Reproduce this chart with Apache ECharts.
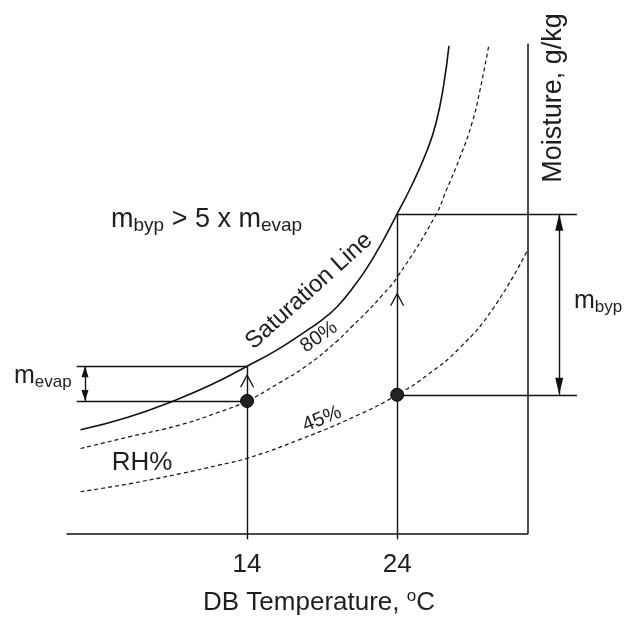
<!DOCTYPE html>
<html>
<head>
<meta charset="utf-8">
<title>Bypass vs evaporator moisture</title>
<script src="https://cdn.jsdelivr.net/npm/echarts@6.0.0/dist/echarts.min.js"></script>
<style>
  html, body { margin: 0; padding: 0; background: #fff; }
  #chart { width: 625px; height: 617px; }
</style>
</head>
<body>
<div id="chart"></div>
<script>
// dry-bulb temperature (°C) against moisture content (g/kg)
const tempTicks = [14, 24];

const satCurve = [
  [2.9, 6.35], [6.0, 7.1], [9.3, 8.2], [11.8, 9.2], [14, 10.25], [16, 11.25],
  [18, 12.45], [19, 13.1], [20, 13.9], [21, 15.0], [22, 16.3], [23, 17.85],
  [24, 19.6], [25, 21.4], [26, 23.5], [26.6, 25.2], [27.1, 27.5], [27.45, 29.9]
];
const rh80Curve = [
  [2.9, 5.2], [6.2, 5.93], [9.5, 6.64], [12.2, 7.46], [14, 8.12], [16, 9.15],
  [18, 10.3], [20, 11.8], [21, 12.7], [22, 13.6], [23, 14.6], [24, 15.7],
  [26.5, 19.4], [27.3, 21.1], [28.2, 23.1], [29.0, 25.2], [29.5, 27.1], [30.1, 29.9]
];
const rh45Curve = [
  [2.9, 2.55], [6.2, 3.05], [9.5, 3.65], [12.2, 4.2], [14, 4.6], [17.5, 5.75],
  [21.5, 7.3], [24, 8.5], [26, 9.7], [28.2, 11.4], [30.4, 13.8], [32.65, 17.3]
];

const statePoints = [[14, 8.12], [24, 8.5]];   // air states on 80% and 45% RH
const satMoisture = [10.25, 19.6];             // saturation moisture at 14 and 24 °C
const flowMarks = [[14, 9.7], [24, 14.7]];     // open arrows on the process lines

const FONT = '"Liberation Sans", Arial, Helvetica, sans-serif';
const INK = '#111';
const TEXT = '#1e1e1e';

// bracket positions (temperature units, the right ones sit past the axis)
const evapLineX = 2.65;
const evapArrowX = 3.2;
const bypLineX = 35.98;
const bypArrowX = 34.8;

const segments = [
  [[tempTicks[0], 0], [tempTicks[0], satMoisture[0]]],
  [[tempTicks[1], 0], [tempTicks[1], satMoisture[1]]],
  [[evapLineX, satMoisture[0]], [tempTicks[0], satMoisture[0]]],
  [[evapLineX, statePoints[0][1]], statePoints[0]],
  [[tempTicks[1], satMoisture[1]], [bypLineX, satMoisture[1]]],
  [statePoints[1], [bypLineX, statePoints[1][1]]],
  [[evapArrowX, satMoisture[0]], [evapArrowX, statePoints[0][1]]],
  [[bypArrowX, satMoisture[1]], [bypArrowX, statePoints[1][1]]]
];

function headRenderer(len, hw) {
  return function (params, api) {
    const p = api.coord([api.value(0), api.value(1)]);
    const d = api.value(2);
    return {
      type: 'polygon',
      shape: { points: [[p[0], p[1]], [p[0] - hw, p[1] + d * len], [p[0] + hw, p[1] + d * len]] },
      style: { fill: INK }
    };
  };
}

function curve(data, width, dashed) {
  return {
    type: 'line',
    data: data,
    smooth: 0.5,
    symbol: 'none',
    silent: true,
    clip: false,
    lineStyle: { color: INK, width: width, type: dashed ? [4, 3] : 'solid' },
    z: 3
  };
}

const chart = echarts.init(document.getElementById('chart'));

chart.setOption({
  animation: false,
  backgroundColor: '#fff',
  grid: { left: 67, right: 97.3, top: 44.3, bottom: 83.7, containLabel: false, outerBoundsMode: 'none' },
  xAxis: {
    type: 'value',
    min: 2,
    max: 32.7,
    axisLine: { show: true, onZero: false, lineStyle: { color: INK, width: 1.5 } },
    axisTick: { show: true, customValues: tempTicks, length: 6, inside: false, lineStyle: { color: INK, width: 1.4 } },
    axisLabel: { customValues: tempTicks, margin: 19, fontSize: 26, color: TEXT, fontFamily: FONT },
    splitLine: { show: false }
  },
  yAxis: {
    type: 'value',
    position: 'right',
    min: 0,
    max: 30,
    axisLine: { show: true, onZero: false, lineStyle: { color: INK, width: 1.5 } },
    axisTick: { show: false },
    axisLabel: { show: false },
    splitLine: { show: false }
  },
  series: [
    curve(satCurve, 1.6, false),
    curve(rh80Curve, 1.2, true),
    curve(rh45Curve, 1.2, true),
    {
      type: 'lines',
      coordinateSystem: 'cartesian2d',
      polyline: false,
      clip: false,
      silent: true,
      symbol: 'none',
      lineStyle: { color: INK, width: 1.4, opacity: 1, curveness: 0 },
      data: segments.map(c => ({ coords: c })),
      z: 2
    },
    {
      type: 'custom',
      coordinateSystem: 'cartesian2d',
      clip: false,
      silent: true,
      renderItem: headRenderer(17, 4),
      data: [[bypArrowX, satMoisture[1], 1], [bypArrowX, statePoints[1][1], -1]],
      z: 4
    },
    {
      type: 'custom',
      coordinateSystem: 'cartesian2d',
      clip: false,
      silent: true,
      renderItem: headRenderer(11, 3.5),
      data: [[evapArrowX, satMoisture[0], 1], [evapArrowX, statePoints[0][1], -1]],
      z: 4
    },
    {
      type: 'custom',
      coordinateSystem: 'cartesian2d',
      silent: true,
      renderItem: function (params, api) {
        const p = api.coord([api.value(0), api.value(1)]);
        return {
          type: 'polyline',
          shape: { points: [[p[0] - 6.5, p[1] + 12], [p[0], p[1]], [p[0] + 6.5, p[1] + 12]] },
          style: { stroke: INK, lineWidth: 1.3, fill: 'none' }
        };
      },
      data: flowMarks,
      z: 4
    },
    {
      type: 'scatter',
      data: statePoints,
      symbol: 'circle',
      symbolSize: 13,
      silent: true,
      itemStyle: { color: '#222', borderColor: '#000', borderWidth: 1, opacity: 1 },
      z: 5
    }
  ],
  graphic: [
    {
      type: 'text', x: 111, y: 220,
      style: {
        text: '{m|m}{s|byp}{m| > 5 x m}{s|evap}',
        verticalAlign: 'middle', align: 'left',
        rich: {
          m: { fontSize: 27, lineHeight: 30, fontFamily: FONT, fill: TEXT },
          s: { fontSize: 19, lineHeight: 18, verticalAlign: 'bottom', fontFamily: FONT, fill: TEXT }
        }
      }
    },
    {
      type: 'text', x: 14, y: 376,
      style: {
        text: '{m|m}{s|evap}',
        verticalAlign: 'middle', align: 'left',
        rich: {
          m: { fontSize: 25, lineHeight: 30, fontFamily: FONT, fill: TEXT },
          s: { fontSize: 17, lineHeight: 18, verticalAlign: 'bottom', fontFamily: FONT, fill: TEXT }
        }
      }
    },
    {
      type: 'text', x: 574, y: 301,
      style: {
        text: '{m|m}{s|byp}',
        verticalAlign: 'middle', align: 'left',
        rich: {
          m: { fontSize: 25, lineHeight: 30, fontFamily: FONT, fill: TEXT },
          s: { fontSize: 17, lineHeight: 18, verticalAlign: 'bottom', fontFamily: FONT, fill: TEXT }
        }
      }
    },
    {
      type: 'text', x: 142, y: 463,
      style: { text: 'RH%', fontSize: 26, fontFamily: FONT, fill: TEXT, align: 'center', verticalAlign: 'middle' }
    },
    {
      type: 'text', x: 309, y: 291, rotation: 42 * Math.PI / 180,
      style: { text: 'Saturation Line', fontSize: 24, fontFamily: FONT, fill: TEXT, align: 'center', verticalAlign: 'middle' }
    },
    {
      type: 'text', x: 319, y: 337, rotation: 35 * Math.PI / 180,
      style: { text: '80%', fontSize: 20, fontFamily: FONT, fill: TEXT, align: 'center', verticalAlign: 'middle' }
    },
    {
      type: 'text', x: 322, y: 419, rotation: 22 * Math.PI / 180,
      style: { text: '45%', fontSize: 20, fontFamily: FONT, fill: TEXT, align: 'center', verticalAlign: 'middle' }
    },
    {
      type: 'text', x: 554, y: 98, rotation: Math.PI / 2,
      style: { text: 'Moisture, g/kg', fontSize: 27, fontFamily: FONT, fill: TEXT, align: 'center', verticalAlign: 'middle' }
    },
    {
      type: 'text', x: 319, y: 603,
      style: {
        text: '{t|DB Temperature, }{o|o}{t|C}',
        align: 'center', verticalAlign: 'middle',
        rich: {
          t: { fontSize: 26, lineHeight: 30, fontFamily: FONT, fill: TEXT },
          o: { fontSize: 17, lineHeight: 17, verticalAlign: 'top', fontFamily: FONT, fill: TEXT }
        }
      }
    }
  ]
});
</script>
</body>
</html>
